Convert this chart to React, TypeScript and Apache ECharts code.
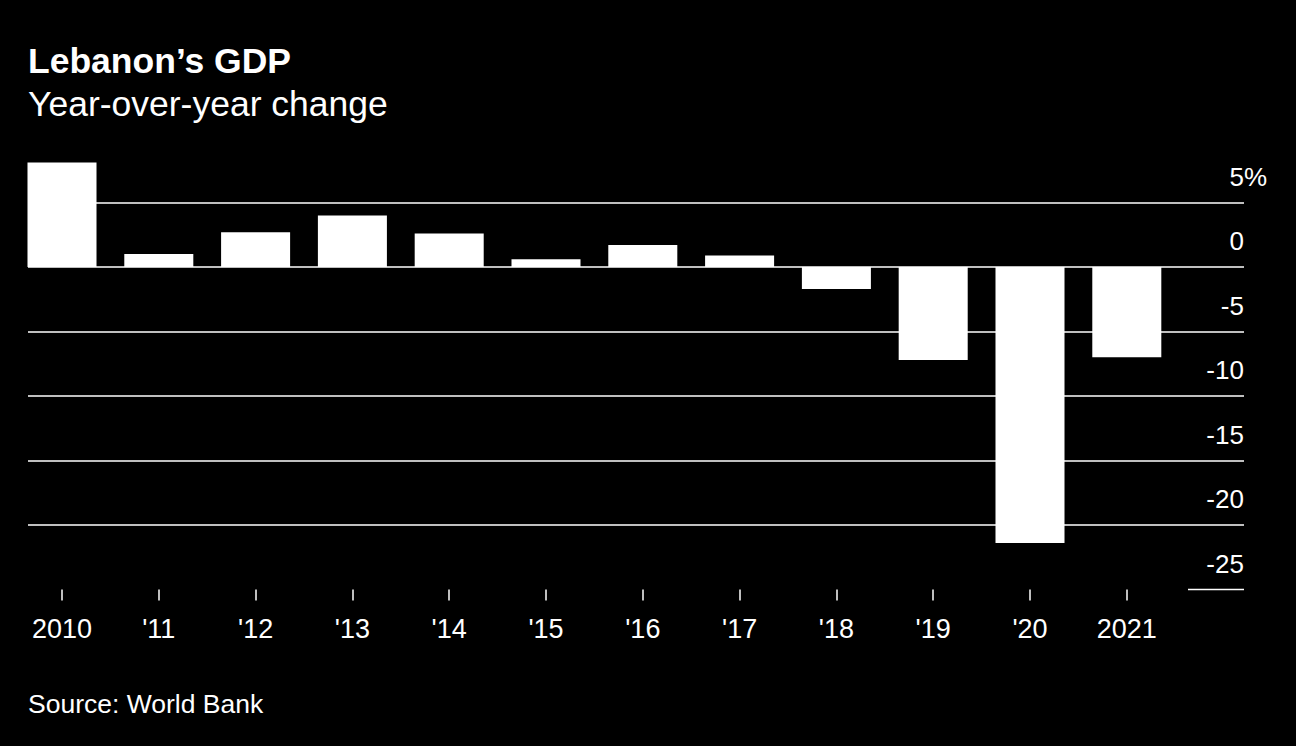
import React, { useEffect, useRef } from "react";
import * as echarts from "echarts";

const categories = ["2010", "'11", "'12", "'13", "'14", "'15", "'16", "'17", "'18", "'19", "'20", "2021"];
const gdpChange = [8.1, 1.0, 2.7, 4.0, 2.6, 0.6, 1.7, 0.9, -1.7, -7.2, -21.4, -7.0];
const yMin = -25;
const yMax = 5;
const yStep = 5;

const FONT = "'Liberation Sans', Arial, Helvetica, sans-serif";

export default function App() {
  const ref = useRef<HTMLDivElement>(null);
  useEffect(() => {
    document.body.style.margin = "0";
    document.body.style.background = "#000";
    const chart = echarts.init(ref.current!, null, { renderer: "svg" });
    const gridTop = 202.5;
    const gridBottom = 746 - 589.5;
    chart.setOption({
      animation: false,
      backgroundColor: "#000",
      textStyle: { fontFamily: FONT },
      graphic: [
        {
          type: "text",
          left: 28,
          top: 43,
          style: { text: "Lebanon\u2019s GDP", fill: "#fff", font: `bold 35.5px ${FONT}` },
        },
        {
          type: "text",
          left: 28,
          top: 86,
          style: { text: "Year-over-year change", fill: "#fff", font: `35.5px ${FONT}` },
        },
        {
          type: "text",
          left: 28,
          top: 690,
          style: { text: "Source: World Bank", fill: "#fff", font: `26.5px ${FONT}` },
        },
        {
          type: "line",
          shape: { x1: 1188, y1: 589.5, x2: 1244, y2: 589.5 },
          style: { stroke: "#fff", lineWidth: 1.5 },
        },
      ],
      grid: [
        { left: 28, right: 1296 - 1244, top: gridTop, bottom: gridBottom },
        { left: 13.6, right: 1296 - 1175.2, top: gridTop, bottom: gridBottom },
      ],
      xAxis: [
        { type: "value", gridIndex: 0, show: false, min: 0, max: 1 },
        {
          type: "category",
          gridIndex: 1,
          data: categories,
          position: "bottom",
          axisLine: { show: false, onZero: false },
          axisTick: { show: true, alignWithLabel: true, length: 11, lineStyle: { color: "#fff", width: 1.5 } },
          axisLabel: { color: "#fff", fontSize: 27, fontFamily: FONT, margin: 26, interval: 0 },
        },
      ],
      yAxis: [
        {
          type: "value",
          gridIndex: 0,
          min: yMin,
          max: yMax,
          interval: yStep,
          position: "right",
          offset: 23,
          axisLine: { show: false },
          axisTick: { show: false },
          splitLine: { show: true, showMinLine: false, lineStyle: { color: "#fff", width: 1.5 } },
          axisLabel: {
            inside: true,
            margin: 0,
            verticalAlign: "bottom",
            padding: [0, 0, 13, 0],
            formatter: (v: number) =>
              v === yMax ? `{n|${v}}{p|%}` : `{n|${v}}{h|%}`,
            rich: {
              n: { color: "#fff", fontSize: 26, fontFamily: FONT },
              p: { color: "#fff", fontSize: 26, fontFamily: FONT },
              h: { color: "rgba(0,0,0,0)", fontSize: 26, fontFamily: FONT },
            },
          },
        },
        {
          type: "value",
          gridIndex: 1,
          min: yMin,
          max: yMax,
          interval: yStep,
          show: false,
          splitLine: { show: false },
        },
      ],
      series: [
        {
          type: "bar",
          xAxisIndex: 1,
          yAxisIndex: 1,
          data: gdpChange,
          clip: false,
          barCategoryGap: "28.7%",
          itemStyle: { color: "#fff" },
          z: 5,
        },
      ],
    });
    return () => chart.dispose();
  }, []);
  return (
    <div
      ref={ref}
      style={{ position: "absolute", left: 0, top: 0, width: 1296, height: 746, background: "#000" }}
    />
  );
}
